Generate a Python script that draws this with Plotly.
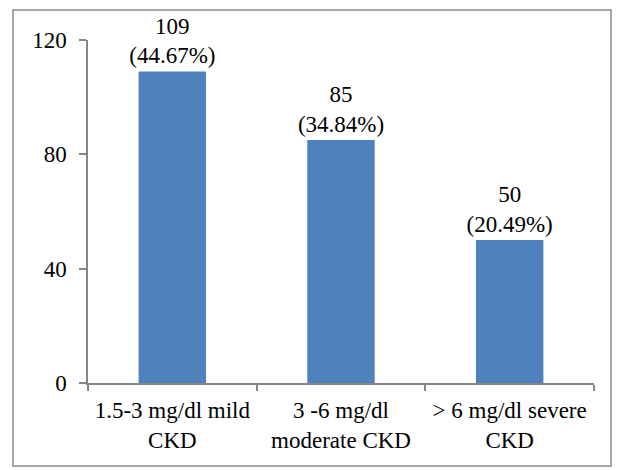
import plotly.graph_objects as go

# CKD severity groups by serum creatinine
categories = ["1.5-3 mg/dl mild<br>CKD", "3 -6 mg/dl<br>moderate CKD", "> 6 mg/dl severe<br>CKD"]
counts = [109, 85, 50]
percents = [44.67, 34.84, 20.49]

labels = [f"{c}<br>({p:.2f}%)" for c, p in zip(counts, percents)]

W, H = 619, 470
L, R, T, B = 88, 25, 40, 87
pw, ph = W - L - R, H - T - B

serif = "Liberation Serif, Times New Roman, serif"
txt = dict(family=serif, size=23, color="black")

fig = go.Figure(go.Bar(
    x=categories, y=counts, text=labels, textposition="outside",
    textfont=txt, outsidetextfont=txt,
    marker=dict(color="#4F81BD", line=dict(width=0)),
    cliponaxis=False, constraintext="none",
))

axis_col = "#868686"
fig.update_layout(
    width=W, height=H, margin=dict(l=L, r=R, t=T, b=B),
    paper_bgcolor="white", plot_bgcolor="white",
    bargap=0.6, showlegend=False,
    font=txt,
    xaxis=dict(showline=True, linecolor=axis_col, linewidth=1.5,
               ticks="outside", tickson="boundaries", ticklen=6,
               tickcolor=axis_col, tickwidth=1.5, showgrid=False,
               tickfont=txt, ticklabelstandoff=6),
    yaxis=dict(range=[0, 120], tickvals=[0, 40, 80, 120], showline=True,
               linecolor=axis_col, linewidth=1.5, ticks="outside",
               ticklen=7, tickcolor=axis_col, tickwidth=1.5,
               showgrid=False, zeroline=False, ticklabelstandoff=8,
               tickfont=txt),
)

# chart frame
fx0, fx1, fy0, fy1 = 13, 611, 10, 466
fig.add_shape(type="rect", xref="paper", yref="paper",
              x0=(fx0 - L) / pw, x1=(fx1 - L) / pw,
              y0=(H - B - fy1) / ph, y1=(H - B - fy0) / ph,
              line=dict(color="#8C8C8C", width=1.5), layer="below")

fig.write_html("out.html")
